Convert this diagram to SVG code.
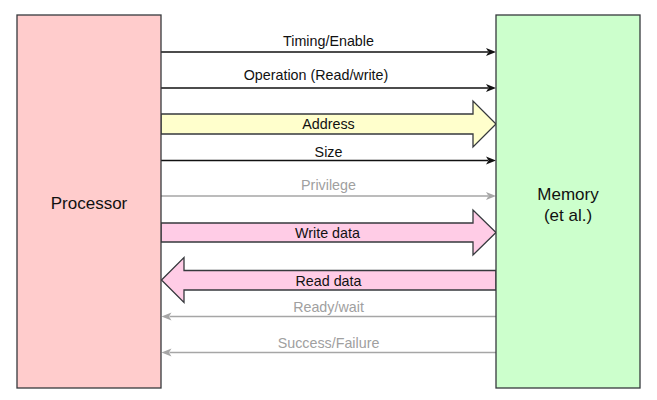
<svg xmlns="http://www.w3.org/2000/svg" width="657" height="400" viewBox="0 0 657 400">
  <style>
    text { font-family: "Liberation Sans", Arial, Helvetica, sans-serif; text-anchor: middle; }
    .box { stroke: #36393d; stroke-width: 1.3; }
    .lbl { font-size: 14.3px; fill: #111111; }
    .glbl { font-size: 14.3px; fill: #a0a0a0; }
    .big { font-size: 17px; fill: #111111; }
    .ln { stroke: #111111; stroke-width: 1.4; fill: none; }
    .gln { stroke: #a6a6a6; stroke-width: 1.4; fill: none; }
    .fat { stroke: #36393d; stroke-width: 1.3; }
  </style>
  <defs>
    <marker id="ahB" markerUnits="userSpaceOnUse" markerWidth="12" markerHeight="10" viewBox="0 0 12 10" refX="2" refY="5" orient="auto">
      <path d="M0,1 L10,5 L0,9 L2.5,5 Z" fill="#111111"/>
    </marker>
    <marker id="ahG" markerUnits="userSpaceOnUse" markerWidth="12" markerHeight="10" viewBox="0 0 12 10" refX="2" refY="5" orient="auto">
      <path d="M0,1 L10,5 L0,9 L2.5,5 Z" fill="#a6a6a6"/>
    </marker>
  </defs>
  <rect width="657" height="400" fill="#ffffff"/>

  <g id="connectors">
    <path class="ln" d="M161,52 L488,52" marker-end="url(#ahB)"/>
    <path class="ln" d="M161,88 L488,88" marker-end="url(#ahB)"/>
    <polygon class="fat" fill="#ffffcc" points="161,114 473,114 473,101 496,124 473,147 473,134 161,134"/>
    <path class="ln" d="M161,160.5 L488,160.5" marker-end="url(#ahB)"/>
    <path class="gln" d="M161,196 L488,196" marker-end="url(#ahG)"/>
    <polygon class="fat" fill="#ffcce6" points="161,223 473,223 473,210 496,232.5 473,255 473,242 161,242"/>
    <polygon class="fat" fill="#ffcce6" points="496,270.5 184,270.5 184,257.5 161.5,280 184,302.5 184,290 496,290"/>
    <path class="gln" d="M496,316.5 L169.5,316.5" marker-end="url(#ahG)"/>
    <path class="gln" d="M496,352.5 L169.5,352.5" marker-end="url(#ahG)"/>
    <text class="lbl" x="328.5" y="45.5">Timing/Enable</text>
    <text class="lbl" x="316" y="80">Operation (Read/write)</text>
    <text class="lbl" x="328.5" y="129">Address</text>
    <text class="lbl" x="328.5" y="157">Size</text>
    <text class="glbl" x="328.5" y="190">Privilege</text>
    <text class="lbl" x="327.5" y="237.5">Write data</text>
    <text class="lbl" x="328.5" y="286">Read data</text>
    <text class="glbl" x="328.5" y="311.5">Ready/wait</text>
    <text class="glbl" x="328.5" y="348">Success/Failure</text>
  </g>

  <g id="processor">
    <rect class="box" x="17" y="15" width="144" height="373" fill="#ffcccc"/>
    <text class="big" x="89" y="208.5">Processor</text>
  </g>

  <g id="memory">
    <rect class="box" x="496" y="15" width="144" height="373" fill="#ccffcc"/>
    <text class="big" x="568" y="199.5">Memory</text>
    <text class="big" x="568" y="220.5">(et al.)</text>
  </g>
</svg>
